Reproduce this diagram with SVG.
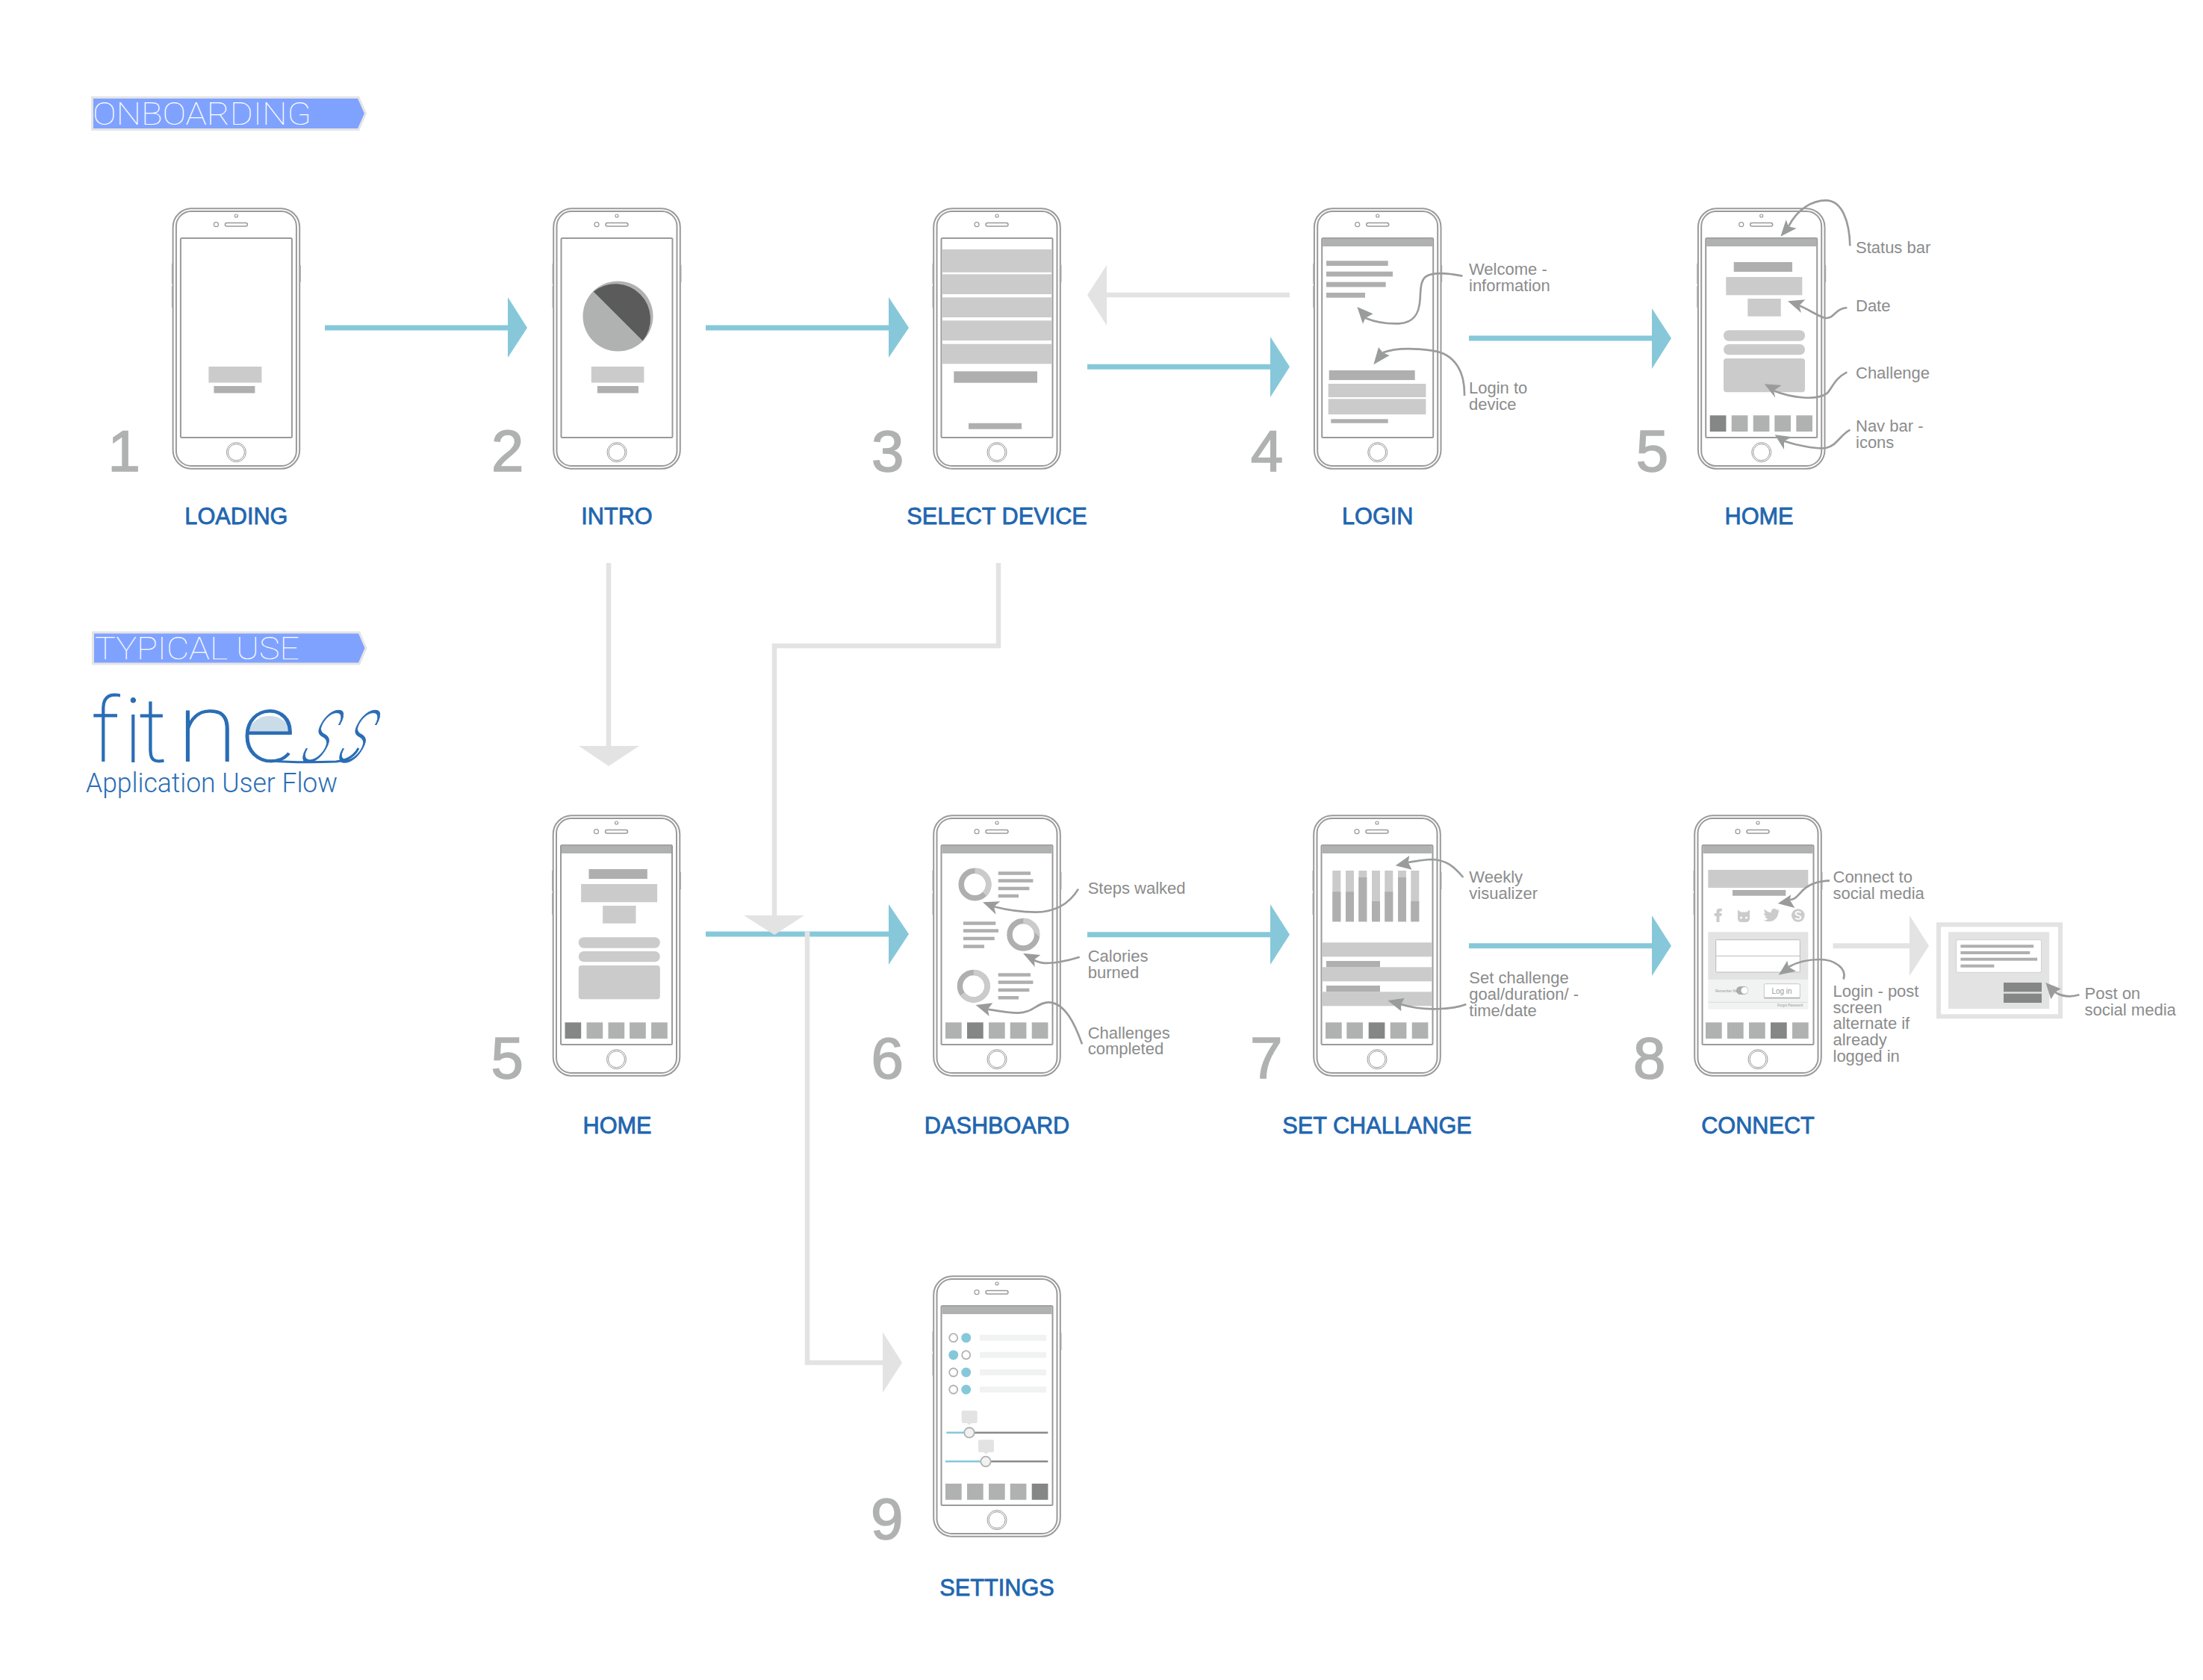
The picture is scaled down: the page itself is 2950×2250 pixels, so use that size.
<svg xmlns="http://www.w3.org/2000/svg" width="2950" height="2250" viewBox="0 0 2950 2250">
<style>
.b{fill:none;stroke:#9a9a9a;stroke-width:2}
.l{fill:#cbcbcb}.d{fill:#afafaf}.a{fill:#858686}.n{fill:#b0b2b1}.g{fill:#e3e3e3}.p{fill:#f1f2f2}
.num{font:78px "Liberation Sans",Arial,sans-serif;fill:#b0b2b1;stroke:#b0b2b1;stroke-width:1.6}
.lab{font:30.700px "Liberation Sans",Arial,sans-serif;fill:#2166b0;stroke:#2166b0;stroke-width:.8;text-anchor:middle}
.c{font:22px "Liberation Sans",Arial,sans-serif;fill:#8b8c8c}
.ban{font-family:"Roboto","Inter",sans-serif;font-weight:100;fill:#fff}
.logo{font-family:"Roboto","Inter",sans-serif;font-weight:100;fill:#2a6db5;stroke:#2a6db5;stroke-width:1}
.sub{font-family:"Roboto","Inter",sans-serif;font-weight:300;fill:#2a6db5}
.bl{stroke:#86c8d9;stroke-width:7;fill:none}.bh{fill:#86c8d9}
.gl{stroke:#e3e3e3;stroke-width:6.5;fill:none}
.co{stroke:#9a9c9b;stroke-width:8;fill:none}.h{fill:#9a9c9b}
.don{fill:none;stroke-width:7.5}
</style>
<defs>
<g id="phone">
<rect x="1.2" y="1.2" width="169.6" height="348.6" rx="25" fill="#fff" class="b"/>
<rect x="5.5" y="5" width="161" height="341" rx="20" class="b"/>
<rect x="11.5" y="41" width="149" height="267" rx="1.5" class="b"/>
<rect x="-.5" y="75" width="1.500" height="27" fill="#aaa"/><rect x="-.5" y="105" width="1.500" height="29" fill="#aaa"/><rect x="171" y="77" width="1.500" height="23" fill="#aaa"/>
<circle cx="86" cy="11" r="2" fill="none" stroke="#9a9a9a" stroke-width="1.2"/>
<circle cx="59" cy="22.7" r="3" fill="none" stroke="#9a9a9a" stroke-width="1.2"/>
<rect x="71" y="20.5" width="30" height="4.6" rx="2.3" class="b" style="stroke-width:1.5"/>
<circle cx="86" cy="327.7" r="13" fill="none" stroke="#9a9a9a" stroke-width="1"/>
<circle cx="86" cy="327.7" r="11" fill="none" stroke="#9a9a9a" stroke-width="1"/>
</g>
<g id="bar"><rect x="12.5" y="41.5" width="147" height="10.5" class="n"/></g>
<g id="home-screen">
<use href="#bar"/>
<rect x="49" y="73" width="78.3" height="13" class="d"/>
<rect x="38.6" y="93" width="102" height="24.3" class="l"/>
<rect x="67.6" y="122" width="44.4" height="23.7" class="l"/>
<rect x="35.3" y="164.3" width="109" height="14.4" rx="7" class="l"/>
<rect x="35.3" y="183" width="109" height="14.3" rx="7" class="l"/>
<rect x="35.3" y="202" width="109" height="45.3" rx="4" class="l"/>
<rect x="17" y="278.3" width="21.7" height="21.7" class="a"/>
<rect x="46" y="278.3" width="21.7" height="21.7" class="n"/>
<rect x="75" y="278.3" width="21.7" height="21.7" class="n"/>
<rect x="103.6" y="278.3" width="21.7" height="21.7" class="n"/>
<rect x="132.6" y="278.3" width="21.7" height="21.7" class="n"/>
</g>
</defs>
<rect width="2950" height="2250" fill="#fff"/>

<g id="banner-onboarding">
<path d="M123.5 130.5H480L489.500 152L480 173.5H123.5Z" fill="#80a2ff" stroke="#e5e5e5" stroke-width="3"/>
<text x="124" y="167" class="ban" font-size="43" textLength="293" lengthAdjust="spacingAndGlyphs">ONBOARDING</text>
</g>
<g id="banner-typical">
<path d="M124.500 847H481L490 868L481 889H124.500Z" fill="#80a2ff" stroke="#e5e5e5" stroke-width="3"/>
<text x="127" y="883" class="ban" font-size="42" textLength="274" lengthAdjust="spacingAndGlyphs">TYPICAL USE</text>
</g>
<g id="logo">
<path d="M331 982A31 31 0 0 1 391 982Z" fill="#cbdce9"/>
<text class="logo" font-size="119" y="1020" x="122 166 186">fit</text>
<text class="logo" font-size="128" transform="translate(237 1020) scale(1.160 1)">n</text>
<text class="logo" font-size="128" transform="translate(323 1020) scale(1.130 1)">e</text>
<text class="logo" font-size="128" transform="translate(396 1020) skewX(-30) scale(.55 1)">s</text>
<text class="logo" font-size="128" transform="translate(445 1020) skewX(-30) scale(.55 1)">s</text>
<path d="M362 1019Q400 1022 450 1020Q472 1018 480 1002" fill="none" stroke="#2a6db5" stroke-width="3"/>
<text class="sub" font-size="36" x="115" y="1061" textLength="337" lengthAdjust="spacingAndGlyphs">Application User Flow</text>
</g>

<g id="node-1-loading" transform="translate(230.400 278)">
<use href="#phone"/>
<rect x="49" y="213" width="71" height="21.500" class="l"/>
<rect x="56" y="239" width="55" height="9.500" class="d"/>
<text x="-86" y="352.500" class="num">1</text>
<text x="86" y="424" class="lab">LOADING</text>
</g>
<g id="node-2-intro" transform="translate(740 278)">
<use href="#phone"/>
<circle cx="87.500" cy="145.500" r="47" fill="#b0b2b1"/>
<path d="M54.700 112.400A47 47 0 0 1 120.700 178.500Z" fill="#5a5b5a"/>
<rect x="51.800" y="213" width="70.600" height="21.500" class="l"/>
<rect x="59.900" y="239" width="55" height="9.500" class="d"/>
<text x="-82" y="352.500" class="num">2</text>
<text x="86" y="424" class="lab">INTRO</text>
</g>
<g id="node-3-select-device" transform="translate(1249 278)">
<use href="#phone"/>
<rect x="12.500" y="56" width="146.500" height="30.700" class="l"/>
<rect x="12.500" y="89.300" width="146.500" height="26.700" class="l"/>
<rect x="12.500" y="120.300" width="146.500" height="26.700" class="l"/>
<rect x="12.500" y="151.300" width="146.500" height="26.700" class="l"/>
<rect x="12.500" y="182.700" width="146.500" height="26.600" class="l"/>
<rect x="28.300" y="219.300" width="111.700" height="15.400" class="d"/>
<rect x="48" y="288.700" width="71" height="8" class="d"/>
<text x="-82" y="352.500" class="num">3</text>
<text x="86" y="424" class="lab">SELECT DEVICE</text>
</g>
<g id="node-4-login" transform="translate(1758.700 278)">
<use href="#phone"/><use href="#bar"/>
<rect x="17.300" y="71.300" width="82.700" height="6.700" class="d"/>
<rect x="17.300" y="85.700" width="89" height="6.700" class="d"/>
<rect x="17.300" y="99.700" width="79.700" height="6.700" class="d"/>
<rect x="17.300" y="114" width="52" height="6.700" class="d"/>
<rect x="21" y="218" width="115" height="13" class="d"/>
<rect x="20" y="236" width="130.700" height="18" class="l"/>
<rect x="20" y="256.300" width="130.700" height="20.700" class="l"/>
<rect x="23.600" y="283.300" width="76.400" height="5.400" class="d"/>
<text x="-84" y="352.500" class="num">4</text>
<text x="86" y="424" class="lab">LOGIN</text>
</g>
<g id="node-5-home" transform="translate(2272.700 278)">
<use href="#phone"/><use href="#home-screen"/>
<text x="-82" y="352.500" class="num">5</text>
<text x="82.800" y="424" class="lab">HOME</text>
</g>
<g id="node-5b-home" transform="translate(739.500 1091)">
<use href="#phone"/><use href="#home-screen"/>
<text x="-82" y="352.500" class="num">5</text>
<text x="87" y="427" class="lab">HOME</text>
</g>
<g id="node-6-dashboard" transform="translate(1249 1091)">
<use href="#phone"/><use href="#bar"/>
<g transform="translate(-1249 -1091)">
<circle cx="1305.500" cy="1184.500" r="18.300" class="don" stroke="#afafaf"/>
<circle cx="1305.500" cy="1184.500" r="18.300" class="don" stroke="#cbcbcb" pathLength="360" stroke-dasharray="135 360" transform="rotate(-90 1305.500 1184.500)"/>
<circle cx="1370.300" cy="1251.700" r="18.300" class="don" stroke="#afafaf"/>
<circle cx="1370.300" cy="1251.700" r="18.300" class="don" stroke="#cbcbcb" pathLength="360" stroke-dasharray="90 360" transform="rotate(-90 1370.300 1251.700)"/>
<circle cx="1303.700" cy="1320.700" r="18.300" class="don" stroke="#afafaf"/>
<circle cx="1303.700" cy="1320.700" r="18.300" class="don" stroke="#cbcbcb" pathLength="360" stroke-dasharray="235 360" transform="rotate(-90 1303.700 1320.700)"/>
<rect x="1336.700" y="1167.300" width="43.300" height="4.500" class="d"/><rect x="1336.700" y="1177.300" width="46.700" height="4.500" class="d"/><rect x="1336.700" y="1187.700" width="41.700" height="4.500" class="d"/><rect x="1336.700" y="1197.700" width="27.300" height="4.500" class="d"/>
<rect x="1290" y="1234.300" width="43.300" height="4.500" class="d"/><rect x="1290" y="1244.300" width="47" height="4.500" class="d"/><rect x="1290" y="1254.700" width="41.700" height="4.500" class="d"/><rect x="1290" y="1265.300" width="28" height="4.500" class="d"/>
<rect x="1336.700" y="1303.300" width="43.300" height="4.500" class="d"/><rect x="1336.700" y="1313.300" width="46.700" height="4.500" class="d"/><rect x="1336.700" y="1323.700" width="41.700" height="4.500" class="d"/><rect x="1336.700" y="1334" width="27.300" height="4.500" class="d"/>
</g>
<rect x="17" y="278.300" width="21.700" height="21.700" class="n"/><rect x="46" y="278.300" width="21.700" height="21.700" class="a"/><rect x="75" y="278.300" width="21.700" height="21.700" class="n"/><rect x="103.700" y="278.300" width="21.700" height="21.700" class="n"/><rect x="132.700" y="278.300" width="21.700" height="21.700" class="n"/>
<text x="-82.500" y="352.500" class="num">6</text>
<text x="86" y="427" class="lab">DASHBOARD</text>
</g>
<g id="node-7-set-challange" transform="translate(1758 1091)">
<use href="#phone"/><use href="#bar"/>
<g transform="translate(-1758 -1091)">
<rect x="1784.300" y="1166" width="11" height="68.300" class="l"/><rect x="1784.300" y="1194.300" width="11" height="40" class="d"/>
<rect x="1802" y="1166" width="11" height="68.300" class="l"/><rect x="1802" y="1194.300" width="11" height="40" class="d"/>
<rect x="1819.300" y="1166" width="11" height="68.300" class="l"/><rect x="1819.300" y="1175" width="11" height="59.300" class="d"/>
<rect x="1837" y="1166" width="11" height="68.300" class="l"/><rect x="1837" y="1207" width="11" height="27.300" class="d"/>
<rect x="1854.300" y="1166" width="11" height="68.300" class="l"/><rect x="1854.300" y="1194.300" width="11" height="40" class="d"/>
<rect x="1872" y="1166" width="11" height="68.300" class="l"/><rect x="1872" y="1175" width="11" height="59.300" class="d"/>
<rect x="1889.300" y="1166" width="11" height="68.300" class="l"/><rect x="1889.300" y="1207" width="11" height="27.300" class="d"/>
<rect x="1770.700" y="1262.300" width="147" height="19" class="l"/><rect x="1770.700" y="1295.300" width="147" height="19" class="l"/><rect x="1770.700" y="1328.300" width="147" height="19" class="l"/>
<rect x="1776" y="1287" width="72" height="8.300" class="d"/><rect x="1776" y="1320" width="72" height="8.300" class="d"/>
</g>
<rect x="17" y="278.300" width="21.700" height="21.700" class="n"/><rect x="45.300" y="278.300" width="21.700" height="21.700" class="n"/><rect x="74.700" y="278.300" width="21.700" height="21.700" class="a"/><rect x="103.700" y="278.300" width="21.700" height="21.700" class="n"/><rect x="132.700" y="278.300" width="21.700" height="21.700" class="n"/>
<text x="-84" y="352.500" class="num">7</text>
<text x="86" y="427" class="lab">SET CHALLANGE</text>
</g>
<g id="node-8-connect" transform="translate(2268 1091)">
<use href="#phone"/><use href="#bar"/>
<g transform="translate(-2268 -1091)">
<rect x="2287.300" y="1165" width="134" height="24" class="l"/>
<rect x="2320" y="1192" width="71.300" height="7.700" class="d"/>
<path d="M2298.500 1235V1227H2295.700V1223H2298.500V1220.500C2298.500 1218 2300 1216.700 2302.500 1216.700H2305.700V1220.500H2303.700C2302.700 1220.500 2302.500 1221 2302.500 1222V1223H2305.700L2305.200 1227H2302.500V1235Z" class="l"/>
<path d="M2327 1218.500L2331 1221.500H2339L2343 1218.500V1230C2343 1233.500 2341 1235 2338 1235H2332C2329 1235 2327 1233.500 2327 1230Z" class="l"/>
<circle cx="2331.500" cy="1229" r="1.500" fill="#fff"/><circle cx="2338.500" cy="1229" r="1.500" fill="#fff"/>
<path d="M2383 1219.500l-2.500 .5 1.500-2.500-3 1c-3-3-8-1-7 3.500c-4 0-7-2-9-4.500c-1 2-.5 4.500 1.500 6l-2.500-.5c0 2 1.500 4 4 4.500l-2.500 0c.5 2 2 3 4 3c-1.500 1.500-4 2-6 2c8 4 19 1 20-11z" class="l"/>
<circle cx="2407.800" cy="1226" r="8.800" class="l"/>
<path d="M2411.500 1222.500C2410 1220.500 2404.500 1220.500 2404.500 1223.500C2404.500 1226.500 2411.500 1225.500 2411.500 1228.800C2411.500 1231.500 2405.500 1231.500 2404 1229.500" fill="none" stroke="#fff" stroke-width="1.800"/>
<rect x="2287.300" y="1248.300" width="134" height="63.700" class="g"/>
<rect x="2287.300" y="1312" width="134" height="39.700" class="p"/>
<path d="M2287.300 1342.300H2421.300" stroke="#ddd" stroke-width="1"/>
<rect x="2297.700" y="1258.700" width="112.600" height="43.300" rx="1.500" fill="#fff" stroke="#bbb" stroke-width="1"/>
<path d="M2297.700 1280.300H2410.300" stroke="#bbb" stroke-width="1"/>
<rect x="2325" y="1321" width="16" height="11" rx="5.500" fill="#aaa"/><circle cx="2336" cy="1326.500" r="4.500" fill="#fff"/>
<text x="2297" y="1329" font-family="Liberation Sans,sans-serif" font-size="4.500" fill="#999">Remember Me</text>
<text x="2380" y="1348" font-family="Liberation Sans,sans-serif" font-size="4.500" fill="#999">Forgot Password</text>
<rect x="2362.300" y="1317.700" width="48" height="19" rx="1.500" fill="#fff" stroke="#c8c8c8" stroke-width="1"/>
<path d="M2362.300 1336.500H2410.300" stroke="#aaa" stroke-width="1.500"/>
<text x="2386" y="1330.500" text-anchor="middle" font-family="Liberation Sans,sans-serif" font-size="10" fill="#999">Log in</text>
</g>
<rect x="16" y="278.300" width="21.700" height="21.700" class="n"/><rect x="45" y="278.300" width="21.700" height="21.700" class="n"/><rect x="74" y="278.300" width="21.700" height="21.700" class="n"/><rect x="103" y="278.300" width="21.700" height="21.700" class="a"/><rect x="132" y="278.300" width="21.700" height="21.700" class="n"/>
<text x="-81" y="352.500" class="num">8</text>
<text x="86" y="427" class="lab">CONNECT</text>
</g>
<g id="node-post">
<rect x="2596" y="1238.300" width="163" height="123" fill="#fff" stroke="#e3e3e3" stroke-width="6"/>
<rect x="2609" y="1248.300" width="135.200" height="102.700" class="g"/>
<rect x="2619.600" y="1258.700" width="113.900" height="43.600" rx="1.500" fill="#fff" stroke="#d0d0d0" stroke-width="1"/>
<rect x="2625.400" y="1265.300" width="97.800" height="4" class="d"/><rect x="2625.400" y="1274" width="92.900" height="4" class="d"/><rect x="2625.400" y="1282.700" width="102.700" height="4" class="d"/><rect x="2625.400" y="1291.700" width="45" height="4" class="d"/>
<rect x="2683" y="1316" width="51" height="12.300" class="a"/><rect x="2683" y="1330.700" width="51" height="12.300" class="a"/>
</g>
<g id="node-9-settings" transform="translate(1249 1708)">
<use href="#phone"/><use href="#bar"/>
<g transform="translate(-1249 -1708)">
<g fill="none" stroke="#b0b2b1" stroke-width="1.800"><circle cx="1276.700" cy="1791.700" r="5.500"/><circle cx="1293.700" cy="1814.700" r="5.500"/><circle cx="1276.700" cy="1838" r="5.500"/><circle cx="1276.700" cy="1861" r="5.500"/></g>
<g class="bh"><circle cx="1293.700" cy="1791.700" r="6.500"/><circle cx="1276.700" cy="1814.700" r="6.500"/><circle cx="1293.700" cy="1838" r="6.500"/><circle cx="1293.700" cy="1861" r="6.500"/></g>
<rect x="1312" y="1787.700" width="89" height="8" class="p"/><rect x="1312" y="1810.700" width="89" height="8" class="p"/><rect x="1312" y="1834" width="89" height="8" class="p"/><rect x="1312" y="1857" width="89" height="8" class="p"/>
<rect x="1287.700" y="1889.300" width="21" height="16.700" rx="2" class="g"/><path d="M1295 1906h6l-3 2.500z" class="g"/>
<rect x="1310" y="1928.300" width="21" height="16.700" rx="2" class="g"/><path d="M1317.500 1945h6l-3 2.500z" class="g"/>
<path d="M1267.300 1918.700H1298" stroke="#86c8d9" stroke-width="2.500"/><path d="M1298 1918.700H1403.300" stroke="#8a8a8a" stroke-width="2.500"/>
<path d="M1266 1957.300H1320" stroke="#86c8d9" stroke-width="2.500"/><path d="M1320 1957.300H1403.300" stroke="#8a8a8a" stroke-width="2.500"/>
<circle cx="1298" cy="1918.700" r="6.700" fill="#f1f2f2" stroke="#b0b2b1" stroke-width="1.800"/>
<circle cx="1320" cy="1957.300" r="6.700" fill="#f1f2f2" stroke="#b0b2b1" stroke-width="1.800"/>
</g>
<rect x="17" y="279" width="21.700" height="21.700" class="n"/><rect x="46" y="279" width="21.700" height="21.700" class="n"/><rect x="75" y="279" width="21.700" height="21.700" class="n"/><rect x="103.700" y="279" width="21.700" height="21.700" class="n"/><rect x="132.700" y="279" width="21.700" height="21.700" class="a"/>
<text x="-83" y="352.500" class="num">9</text>
<text x="86" y="429" class="lab">SETTINGS</text>
</g>

<g id="connectors">
<g id="flow-blue">
<path class="bl" d="M435 439H681"/><path class="bh" d="M680 398L706 439L680 479Z"/>
<path class="bl" d="M945 439H1191"/><path class="bh" d="M1190 398L1217 439L1190 479Z"/>
<path class="bl" d="M1456 491.300H1702"/><path class="bh" d="M1701 451L1727 491.300L1701 532Z"/>
<path class="bl" d="M1967 453H2213"/><path class="bh" d="M2212 413L2238 453L2212 494Z"/>
<path class="bl" d="M945 1251H1191"/><path class="bh" d="M1190 1211L1217 1251L1190 1292Z"/>
<path class="bl" d="M1456 1251.700H1702"/><path class="bh" d="M1701 1211L1727 1251.700L1701 1292Z"/>
<path class="bl" d="M1967 1266.700H2213"/><path class="bh" d="M2212 1226L2238 1266.700L2212 1307Z"/>
</g>
<g id="flow-grey">
<path class="gl" d="M1727 395H1481"/><path class="g" d="M1482 355L1456 395L1482 436Z"/>
<path class="gl" d="M815 754V1000"/><path class="g" d="M775 999L815 1026L856 999Z"/>
<path class="gl" d="M1337 754V865H1037V1227"/><path class="g" d="M996 1226L1037 1252L1077 1226Z"/>
<path class="gl" d="M1081 1248V1825H1183"/><path class="g" d="M1182 1784L1208 1825L1182 1865Z"/>
<path class="gl" d="M2454.500 1266.700H2558" style="stroke-width:7"/><path class="g" d="M2557 1226L2583 1266.700L2557 1307Z"/>
</g>
<g id="callouts-4" transform="translate(1700 240) scale(.33333)">
<path class="co" d="M775 389C720 378 660 372 630 390C605 405 607 450 605 480C602 540 580 578 520 580C470 582 420 572 385 558"/>
<polygon class="h" points="352,513 416,541 385,558 375,581"/>
<path class="co" d="M783 870C785 780 750 700 650 688C590 680 510 675 455 697"/>
<polygon class="h" points="418,745 438,675 455,697 482,708"/>
</g>
<g id="callouts-5" transform="translate(2200 240) scale(.33333)">
<path class="co" d="M832 268C830 170 800 85 735 85C680 85 620 120 585 190"/>
<polygon class="h" points="553,230 575,163 585,190 617,197"/>
<path class="co" d="M820 516C770 520 770 560 735 558C710 555 670 525 628 508"/>
<polygon class="h" points="582,490 652,484 628,508 636,537"/>
<path class="co" d="M820 775C770 800 760 840 740 860C700 890 600 880 525 850"/>
<polygon class="h" points="488,823 557,828 525,850 532,878"/>
<path class="co" d="M832 1007C790 1030 780 1070 735 1080C700 1085 620 1070 567 1052"/>
<polygon class="h" points="530,1027 600,1036 567,1052 567,1086"/>
</g>
<g id="callouts-6" transform="translate(1230 1080) scale(.33333)">
<path class="co" d="M642 332C600 400 540 425 470 425C420 425 350 415 303 403"/>
<polygon class="h" points="258,385 328,382 303,403 311,434"/>
<path class="co" d="M647 605C600 620 530 635 495 628C480 625 470 622 462 615"/>
<polygon class="h" points="420,590 490,597 465,615 467,645"/>
<path class="co" d="M657 955C630 880 590 790 525 787C480 785 460 830 400 830C360 830 320 822 278 815"/>
<polygon class="h" points="230,798 298,790 278,815 284,843"/>
</g>
<g id="callouts-7" transform="translate(1740 1080) scale(.33333)">
<path class="co" d="M658 285C620 240 590 215 530 213C500 213 470 220 437 225"/>
<polygon class="h" points="386,238 442,198 437,225 452,254"/>
<path class="co" d="M670 795C620 815 500 825 408 795"/>
<polygon class="h" points="355,780 422,770 408,795 409,823"/>
</g>
<g id="callouts-8" transform="translate(2260 1150) scale(.33333)">
<path class="co" d="M570 88C520 90 480 105 455 135C440 150 430 165 410 165"/>
<polygon class="h" points="362,180 415,145 410,165 430,198"/>
<path class="co" d="M626 485C640 440 590 405 530 405C490 405 440 415 405 435"/>
<polygon class="h" points="365,467 400,410 405,435 435,452"/>
</g>
<g id="callout-post">
<path d="M2784.400 1332.300C2772 1336 2762 1335 2752 1329" fill="none" stroke="#9a9c9b" stroke-width="2.700"/>
<polygon class="h" points="2739.300,1316 2759.800,1324.300 2752,1329 2746.400,1338.300"/>
</g>
</g>

<g id="annotations">
<text class="c" x="1967" y="367.500">Welcome -</text><text class="c" x="1967" y="390">information</text>
<text class="c" x="1967" y="526.700">Login to</text><text class="c" x="1967" y="548.700">device</text>
<text class="c" x="2485" y="339">Status bar</text>
<text class="c" x="2485" y="416.500">Date</text>
<text class="c" x="2485" y="506.500">Challenge</text>
<text class="c" x="2485" y="577.800">Nav bar -</text><text class="c" x="2485" y="599.800">icons</text>
<text class="c" x="1456.700" y="1196.700">Steps walked</text>
<text class="c" x="1456.700" y="1287.700">Calories</text><text class="c" x="1456.700" y="1309.700">burned</text>
<text class="c" x="1456.700" y="1390.700">Challenges</text><text class="c" x="1456.700" y="1412.300">completed</text>
<text class="c" x="1967.300" y="1181.700">Weekly</text><text class="c" x="1967.300" y="1203.700">visualizer</text>
<text class="c" x="1967.300" y="1316.700">Set challenge</text><text class="c" x="1967.300" y="1338.700">goal/duration/ -</text><text class="c" x="1967.300" y="1360.700">time/date</text>
<text class="c" x="2454.500" y="1181.700">Connect to</text><text class="c" x="2454.500" y="1203.700">social media</text>
<text class="c" x="2454.500" y="1335">Login - post</text><text class="c" x="2454.500" y="1356.700">screen</text><text class="c" x="2454.500" y="1378">alternate if</text><text class="c" x="2454.500" y="1400">already</text><text class="c" x="2454.500" y="1421.700">logged in</text>
<text class="c" x="2791.500" y="1338.300">Post on</text><text class="c" x="2791.500" y="1360">social media</text>
</g>
</svg>
